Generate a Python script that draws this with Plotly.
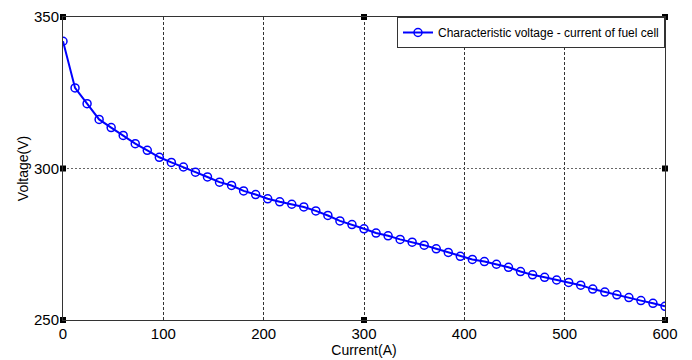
import plotly.graph_objects as go

current = [0, 12, 24, 36, 48, 60, 72, 84, 96, 108,
           120, 132, 144, 156, 168, 180, 192, 204, 216, 228,
           240, 252, 264, 276, 288, 300, 312, 324, 336, 348,
           360, 372, 384, 396, 408, 420, 432, 444, 456, 468,
           480, 492, 504, 516, 528, 540, 552, 564, 576, 588, 600]
voltage = [342.0, 326.6, 321.4, 316.2, 313.5, 310.9, 308.2, 306.0, 303.7, 302.0,
           300.5, 298.8, 297.2, 295.5, 294.4, 292.6, 291.4, 290.0, 289.0, 288.2,
           287.3, 286.0, 284.5, 282.7, 281.5, 280.1, 278.7, 277.8, 276.6, 275.7,
           274.7, 273.5, 272.3, 271.0, 270.0, 269.3, 268.4, 267.4, 266.0, 264.9,
           264.1, 263.2, 262.4, 261.5, 260.2, 259.2, 258.3, 257.4, 256.4, 255.5, 254.5]

x_ticks = [0, 100, 200, 300, 400, 500, 600]
y_ticks = [250, 300, 350]
handle_x = [0, 300, 600, 0, 600, 0, 300, 600]
handle_y = [350, 350, 350, 300, 300, 250, 250, 250]

series_name = "Characteristic voltage - current of fuel cell"
FONT = "Liberation Sans, Arial, sans-serif"

fig = go.Figure()
fig.add_trace(go.Scatter(
    x=current, y=voltage, mode="lines+markers", name=series_name,
    line=dict(color="#0000ff", width=2),
    marker=dict(symbol="circle-open", size=8, color="#0000ff",
                line=dict(width=1.5, color="#0000ff")),
))
fig.add_trace(go.Scatter(
    x=handle_x, y=handle_y, mode="markers", showlegend=False,
    marker=dict(symbol="square", size=6, color="black"),
    cliponaxis=False, hoverinfo="skip",
))

# page body has an 8px default margin, so the figure is sized to fill the rest
fig.update_layout(
    width=684, height=352,
    margin=dict(l=55, r=27, t=9, b=40, autoexpand=False),
    paper_bgcolor="white", plot_bgcolor="white",
    font=dict(family=FONT, color="black", size=14),
    showlegend=True,
    legend=dict(x=1, y=1, xanchor="right", yanchor="top",
                bordercolor="#333333", borderwidth=1, bgcolor="white",
                font=dict(size=12, family=FONT),
                itemwidth=30, tracegroupgap=0,
                ),
)
fig.update_xaxes(
    range=[0, 600], tickvals=x_ticks, ticktext=[str(v) for v in x_ticks],
    showgrid=True, gridcolor="#333333", griddash="3px,2px", gridwidth=1,
    showline=True, linecolor="#333333", linewidth=1, mirror=True,
    zeroline=False, ticks="", ticklen=0, automargin=False,
    title=dict(text="Current(A)", standoff=0, font=dict(size=14)),
    tickfont=dict(size=15),
)
fig.update_yaxes(
    range=[250, 350], tickvals=y_ticks, ticktext=[str(v) for v in y_ticks],
    showgrid=True, gridcolor="#666666", griddash="2px,2px", gridwidth=1,
    showline=True, linecolor="#333333", linewidth=1, mirror=True,
    zeroline=False, ticks="", ticklen=0, automargin=False,
    title=dict(text="Voltage(V)", standoff=2, font=dict(size=14)),
    tickfont=dict(size=15),
)

fig.write_html("out.html")
